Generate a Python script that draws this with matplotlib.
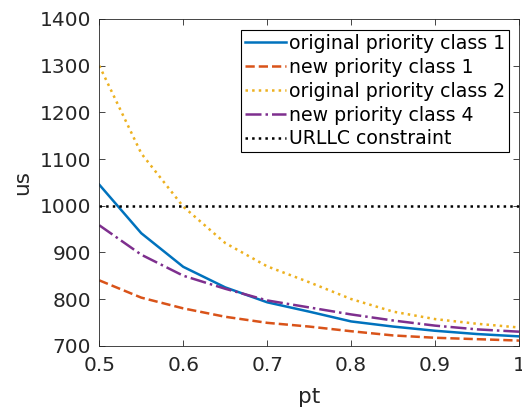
import matplotlib
matplotlib.use("Agg")
import matplotlib.pyplot as plt
import numpy as np

pt = [0.5, 0.55, 0.6, 0.65, 0.7, 0.75, 0.8, 0.85, 0.9, 0.95, 1.0]
orig_class1 = [1045, 941, 869, 825, 793, 773, 752, 741, 732, 725, 720]
new_class1 = [840, 803, 780, 762, 749, 741, 731, 722, 717, 714, 711]
orig_class2 = [1300, 1112, 998, 920, 870, 836, 800, 773, 757, 747, 739]
new_class4 = [958, 895, 850, 822, 797, 782, 767, 754, 743, 735, 730]
urllc = 1000

labels = ["original priority class 1", "new priority class 1",
          "original priority class 2", "new priority class 4",
          "URLLC constraint"]
xticks = [0.5, 0.6, 0.7, 0.8, 0.9, 1.0]
xticklabels = ["0.5", "0.6", "0.7", "0.8", "0.9", "1"]
yticks = [700, 800, 900, 1000, 1100, 1200, 1300, 1400]

plt.rcParams['font.family'] = ['DejaVu Sans']
fig = plt.figure(figsize=(5.22, 4.09), dpi=100)
ax = fig.add_axes([99.3/522, 1-345.7/409, (519-99.3)/522, (345.7-19)/409])

lw = 1.8
ax.plot(pt, orig_class1, '-', color='#0072BD', lw=lw, label=labels[0])
ax.plot(pt, new_class1, '--', color='#D95319', lw=lw, label=labels[1])
ax.plot(pt, orig_class2, ':', color='#EDB120', lw=lw, label=labels[2])
ax.plot(pt, new_class4, '-.', color='#7E2F8E', lw=lw, label=labels[3])
ax.plot([pt[0], pt[-1]], [urllc, urllc], ':', color='black', lw=lw, label=labels[4])

ax.set_xlim(0.5, 1.0)
ax.set_ylim(700, 1400)
ax.set_xticks(xticks)
ax.set_xticklabels(xticklabels)
ax.set_yticks(yticks)
ax.tick_params(direction='in', top=True, right=True, labelsize=14.5,
               colors='#262626', length=4, width=0.6)
ax.tick_params(axis='x', pad=7.5)
ax.tick_params(axis='y', pad=6)
for s in ax.spines.values():
    s.set_color('#262626')
    s.set_linewidth(0.6)
ax.set_xlabel('pt', fontsize=15.5, color='#262626', labelpad=8.5)
ax.set_ylabel('us', fontsize=15.5, color='#262626', labelpad=5)

leg = ax.legend(loc='upper right', bbox_to_anchor=(509/522, 1-30/409),
                bbox_transform=fig.transFigure, fontsize=13.6, frameon=True,
                fancybox=False, framealpha=1, edgecolor='black',
                handlelength=2.15, handletextpad=0.18, labelspacing=0.26,
                borderpad=0.2, borderaxespad=0)
leg.get_frame().set_linewidth(0.8)

fig.savefig('out.png', dpi=100)
